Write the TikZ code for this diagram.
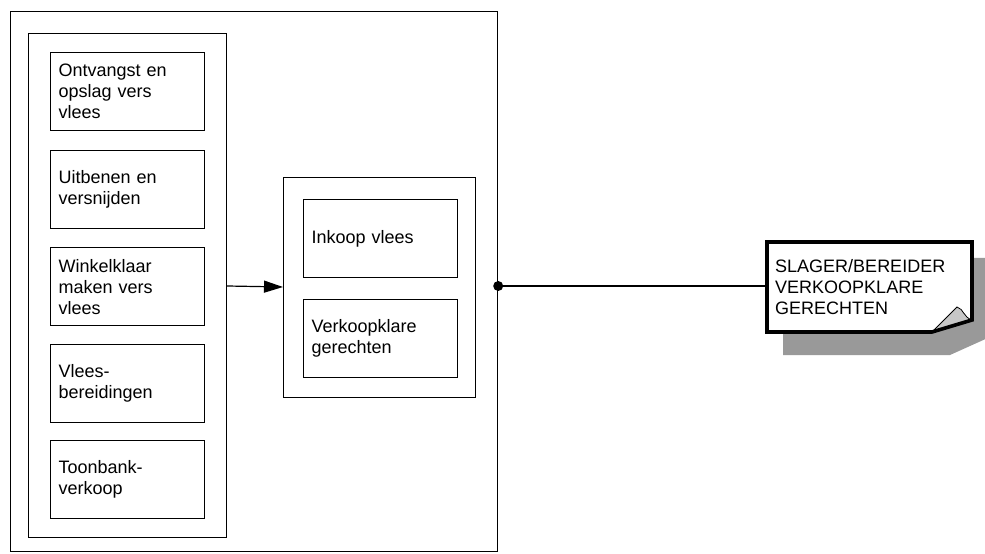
\documentclass[tikz,border=0pt]{standalone}
\usepackage{fontspec}
\setmainfont{Liberation Sans}
\usetikzlibrary{arrows.meta}
\tikzset{
  lbl/.style={font=\fontsize{18bp}{21bp}\selectfont},
  frame/.style={draw=black, line width=1.2bp},
  proc/.style={frame, lbl, anchor=north west, minimum width=154bp, minimum height=78bp,
     text width=138bp, inner xsep=8bp, inner ysep=0pt, align=left},
}
\begin{document}
\begin{tikzpicture}[x=1bp,y=-1bp]
\useasboundingbox (0,0) rectangle (985,554);
\clip (0,0) rectangle (985,554);
% outer frames
\node[frame, anchor=north west, minimum width=487bp, minimum height=540bp, inner sep=0pt] (outer) at (10,11) {};
\node[frame, anchor=north west, minimum width=198bp, minimum height=504bp, inner sep=0pt] (left) at (28,33) {};
\node[frame, anchor=north west, minimum width=192bp, minimum height=220bp, inner sep=0pt] (mid) at (283,177) {};
% left boxes
\node[proc] (b1) at (50,52)  {Ontvangst en\\opslag vers\\vlees};
\node[proc] (b2) at (50,150) {Uitbenen en\\versnijden};
\node[proc] (b3) at (50,247) {Winkelklaar\\maken vers\\vlees};
\node[proc] (b4) at (50,344) {Vlees-\\bereidingen};
\node[proc] (b5) at (50,440) {Toonbank-\\verkoop};
% middle boxes
\node[proc] (m1) at (303,199) {Inkoop vlees};
\node[proc] (m2) at (303,299) {Verkoopklare\\gerechten};
% arrow
\draw[line width=1.2bp, -{Triangle[length=19bp,width=12bp]}] (left.east |- 0,286) -- (mid.west |- 0,287);
% note shadow
\fill[black!40] (783,258) -- (990,258) -- (990,337) -- (950,355) -- (783,355) -- cycle;
% note outline
\coordinate (nw) at (767,242);
\coordinate (ne) at (972,242);
\coordinate (ce) at (972,320);
\coordinate (cs) at (932,332);
\coordinate (sw) at (767,332);
\coordinate (tip) at (957,307);
\fill[white] (nw) -- (ne) -- (ce) -- (cs) -- (sw) -- cycle;
\fill[black!22, draw=black, line width=0.8bp] (cs) -- (tip) .. controls (964,309) and (963,317) .. (ce) -- cycle;
\draw[line width=3.6bp, line join=miter] (nw) -- (ne) -- (ce) -- (cs) -- (sw) -- cycle;
\node[lbl, anchor=west, text width=190bp, inner xsep=8bp, inner ysep=0pt, align=left] (note) at (767,287) {SLAGER/BEREIDER\\VERKOOPKLARE\\GERECHTEN};
% connector
\coordinate (dot) at (outer.east |- 0,286);
\draw[line width=1.2bp] (dot) -- (nw |- 0,286);
\fill (dot) circle (5bp);
\end{tikzpicture}
\end{document}
